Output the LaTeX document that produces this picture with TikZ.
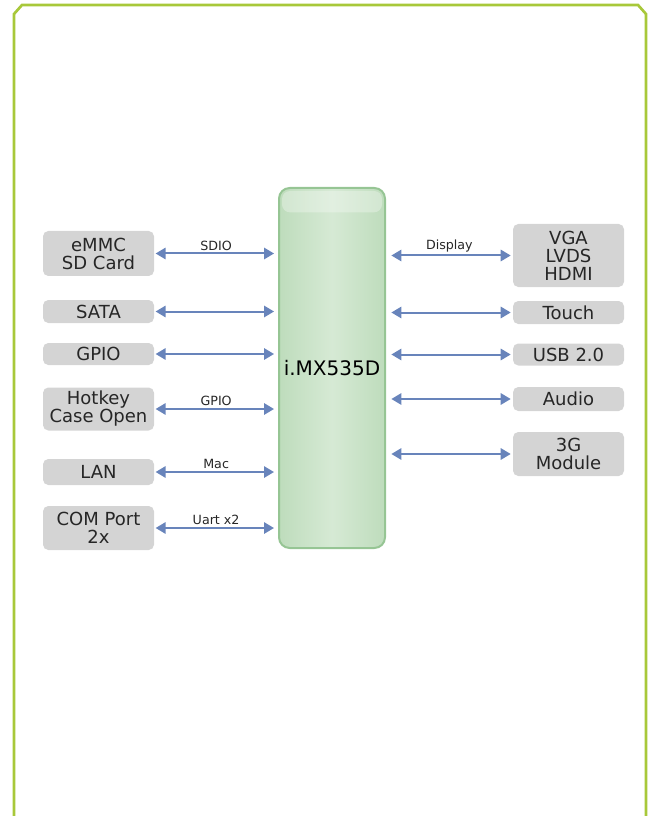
\documentclass[tikz,border=0pt]{standalone}
\usepackage{fontspec}
\setmainfont{DejaVu Sans}
\usetikzlibrary{arrows.meta}

\definecolor{framegreen}{RGB}{168,200,58}
\definecolor{chipfill}{RGB}{200,226,198}
\definecolor{chipedge}{RGB}{150,197,148}
\definecolor{boxgray}{RGB}{212,212,212}
\definecolor{linkblue}{RGB}{104,132,187}

\begin{document}
\begin{tikzpicture}[x=0.75pt, y=-0.75pt,
    part/.style={fill=boxgray, rounded corners=4pt, inner sep=0, align=center,
      minimum width=83.25pt, text=black!85,
      font=\fontsize{13.5}{13.5}\selectfont},
    chip/.style={draw=chipedge, line width=1.5pt, rounded corners=8pt,
      minimum width=79.5pt, minimum height=270pt, inner sep=0,
      left color=chipfill!80!chipedge, right color=chipfill!80!chipedge,
      middle color=chipfill!75!white, font=\fontsize{15}{15}\selectfont},
    link/.style={linkblue, line width=1.5pt,
      {Triangle[length=7.5pt,width=8.5pt]}-{Triangle[length=7.5pt,width=8.5pt]}},
    bus/.style={midway, above, inner sep=1.5pt, text=black!85,
      font=\fontsize{9.5}{9.5}\selectfont}]

    \useasboundingbox (0,0) rectangle (651,816);

    % Frame
    \draw[framegreen, line width=2pt] (14,816) -- (14,14) -- (22,5)
      -- (638,5) -- (646,14) -- (646,816);

    % Processor
    \node[chip] (chip) at (332,368) {i.MX535D};
    \fill[white, opacity=0.3, rounded corners=6pt]
      ([xshift=3pt,yshift=-3pt]chip.north west)
      rectangle ([xshift=-3pt,yshift=-19pt]chip.north east);

    % Left side
    \node[part, minimum height=33.75pt] (emmc) at (98.5,253.5) {eMMC\\SD Card};
    \node[part, minimum height=17.25pt] (sata) at (98.5,311.5) {SATA};
    \node[part, minimum height=16.5pt] (gpio) at (98.5,354) {GPIO};
    \node[part, minimum height=32.25pt] (hotkey) at (98.5,409) {Hotkey\\Case Open};
    \node[part, minimum height=19.5pt] (lan) at (98.5,472) {LAN};
    \node[part, minimum height=33pt] (com) at (98.5,528) {COM Port\\2x};

    % Right side
    \node[part, minimum height=47.25pt] (video) at (568.5,255.5) {VGA\\LVDS\\HDMI};
    \node[part, minimum height=17.25pt] (touch) at (568.5,312.5) {Touch};
    \node[part, minimum height=16.5pt] (usb) at (568.5,354.5) {USB 2.0};
    \node[part, minimum height=18pt] (audio) at (568.5,399) {Audio};
    \node[part, minimum height=33pt] (modem) at (568.5,454) {3G\\Module};

    % Links
    \draw[link, shorten <=1pt, shorten >=3pt] (emmc.east) -- (emmc.east -| chip.west)
      node[bus] (sdio) {SDIO};
    \draw[link, shorten <=1pt, shorten >=3pt] (sata.east) -- (sata.east -| chip.west);
    \draw[link, shorten <=1pt, shorten >=3pt] (gpio.east) -- (gpio.east -| chip.west);
    \draw[link, shorten <=1pt, shorten >=3pt] (hotkey.east) -- (hotkey.east -| chip.west)
      node[bus] (gpiobus) {GPIO};
    \draw[link, shorten <=1pt, shorten >=3pt] (lan.east) -- (lan.east -| chip.west)
      node[bus] (mac) {Mac};
    \draw[link, shorten <=1pt, shorten >=3pt] (com.east) -- (com.east -| chip.west)
      node[bus] (uart) {Uart x2};

    \draw[link, shorten <=4pt, shorten >=1.5pt] (chip.east |- video.west) -- (video.west)
      node[bus] (display) {Display};
    \draw[link, shorten <=4pt, shorten >=1.5pt] (chip.east |- touch.west) -- (touch.west);
    \draw[link, shorten <=4pt, shorten >=1.5pt] (chip.east |- usb.west) -- (usb.west);
    \draw[link, shorten <=4pt, shorten >=1.5pt] (chip.east |- audio.west) -- (audio.west);
    \draw[link, shorten <=4pt, shorten >=1.5pt] (chip.east |- modem.west) -- (modem.west);

\end{tikzpicture}
\end{document}
